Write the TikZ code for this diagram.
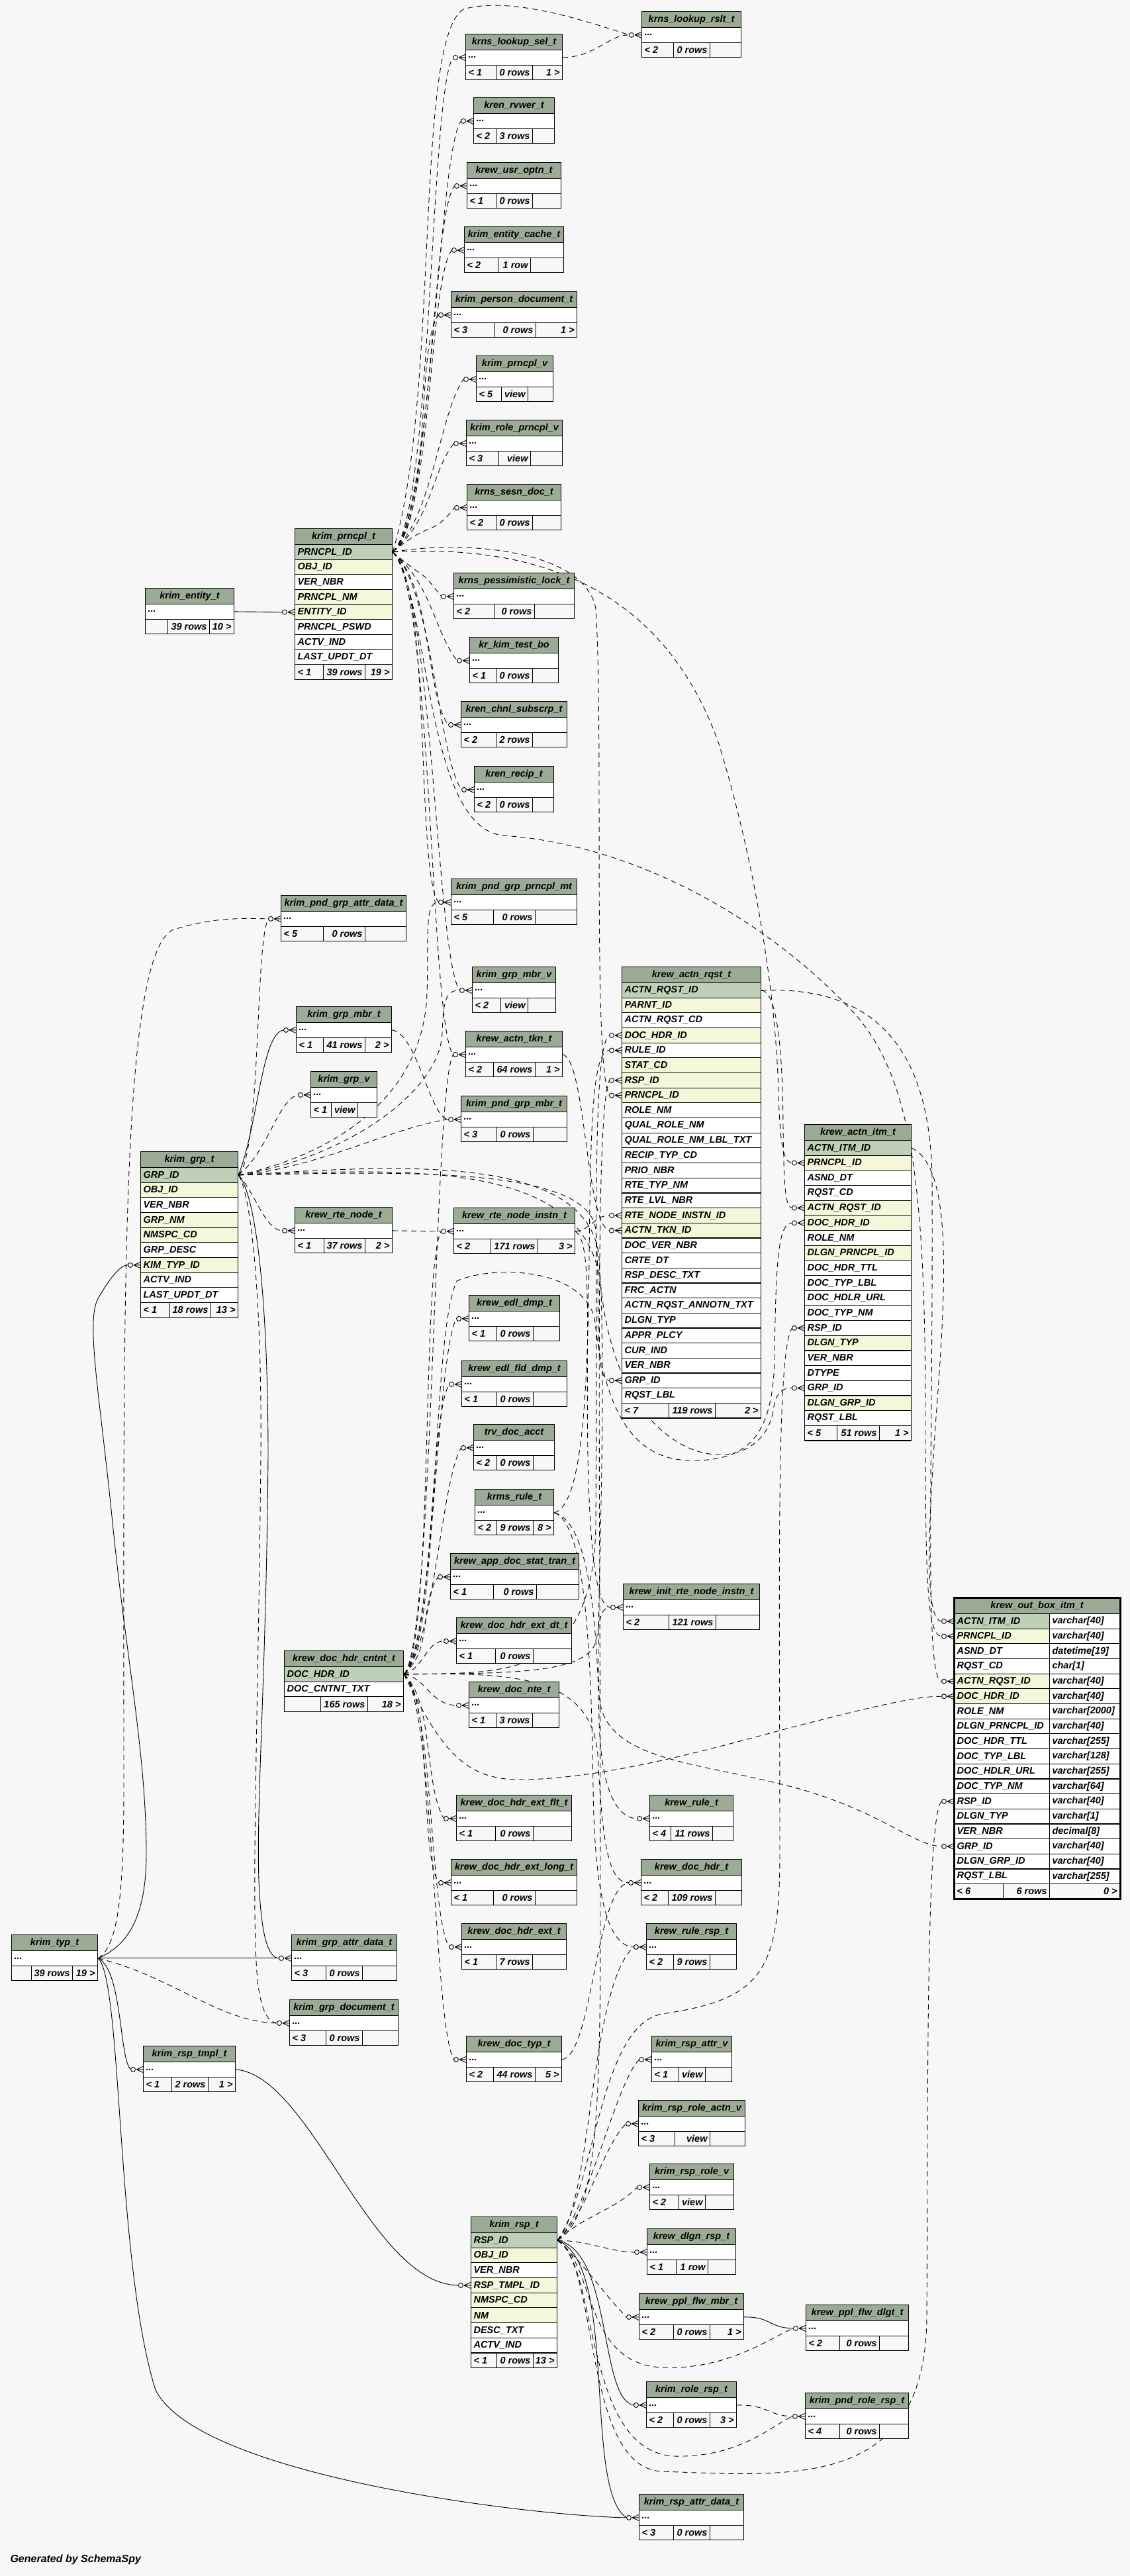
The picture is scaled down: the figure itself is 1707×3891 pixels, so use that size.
\documentclass[tikz,border=0pt]{standalone}
\usepackage{fontspec}
\setmainfont{Liberation Sans}
\definecolor{bgc}{HTML}{F7F7F7}
\definecolor{hdrc}{HTML}{9BAB96}
\definecolor{pkc}{HTML}{BED1B8}
\definecolor{idxc}{HTML}{F4F7DA}
\pgfdeclarelayer{back}
\pgfdeclarelayer{edges}
\pgfsetlayers{back,edges,main}
\newcommand{\tabfnt}{\fontsize{14.5}{16}\selectfont\bfseries\itshape}
% table head + column rows: id, x left, x right, y top, title, rows
\newcommand{\dbt}[6]{%
  \pgfmathsetmacro{\tw}{#3-#2-8}%
  \node[hdr, text width=\tw pt] (#1) at (#2,#4) {#5};
  \foreach \st/\tx [count=\i] in {#6}
    \node[rw, fill=\st, text width=\tw pt] (#1-\i) at (#2,{#4+24+(\i-1)*22.67}) {\tx};
}
% footer: id, x left, divider 1, divider 2, x right, y, three texts
\newcommand{\dbfoot}[9]{%
  \pgfmathsetmacro{\wa}{#3-#2-8}\pgfmathsetmacro{\wb}{#4-#3-8}\pgfmathsetmacro{\wc}{#5-#4-8}%
  \node[rw, fill=bgc] (#1-fa) at (#2,{#6}) {\makebox[\wa pt][l]{#7}};
  \node[rw, fill=bgc] (#1-fb) at (#3,{#6}) {\makebox[\wb pt][r]{#8}};
  \node[rw, fill=bgc] (#1-fc) at (#4,{#6}) {\makebox[\wc pt][r]{#9}};
}
\tikzset{
  hdr/.style={draw, line width=1.1pt, fill=hdrc, font=\tabfnt, inner xsep=4pt, inner ysep=0pt,
              minimum height=24pt, align=center, anchor=north west},
  rw/.style={draw, line width=1.1pt, font=\tabfnt, inner xsep=4pt, inner ysep=0pt,
             minimum height=22.67pt, align=left, anchor=north west},
  fk/.style={dash pattern=on 8pt off 6pt, line width=0.9pt},
  fks/.style={solid, line width=0.9pt},
  crowfoot/.pic={
    \draw[solid, line width=0.9pt] (-15,0) circle (3.5pt);
    \draw[solid, line width=0.9pt] (-10,0) -- (0,4.5) (-10,0) -- (0,0) (-10,0) -- (0,-4.5);
  }
}

\begin{document}
\catcode`\_=12
\begin{tikzpicture}[x=1pt, y=-1pt]
  \begin{pgfonlayer}{back}
    \fill[bgc] (0,0) rectangle (1707,3891);
  \end{pgfonlayer}
  \useasboundingbox (0,0) rectangle (1707,3891);

  % right column, top
  \dbt{lkrslt}{969}{1119}{17}{krns_lookup_rslt_t}{white/{...}}
  \dbfoot{lkrslt}{969}{1017}{1072}{1119}{17+46.67}{< 2}{0 rows}{}
  \dbt{lksel}{703}{849}{51}{krns_lookup_sel_t}{white/{...}}
  \dbfoot{lksel}{703}{749}{804}{849}{51+46.67}{< 1}{0 rows}{1 >}
  \dbt{rvwer}{715}{837}{147}{kren_rvwer_t}{white/{...}}
  \dbfoot{rvwer}{715}{749}{804}{837}{147+46.67}{< 2}{3 rows}{}
  \dbt{usropt}{705}{847}{245}{krew_usr_optn_t}{white/{...}}
  \dbfoot{usropt}{705}{749}{804}{847}{245+46.67}{< 1}{0 rows}{}
  \dbt{entcache}{701}{851}{342}{krim_entity_cache_t}{white/{...}}
  \dbfoot{entcache}{701}{752}{801}{851}{342+46.67}{< 2}{1 row}{}
  \dbt{persdoc}{681}{871}{440}{krim_person_document_t}{white/{...}}
  \dbfoot{persdoc}{681}{746}{809}{871}{440+46.67}{< 3}{0 rows}{1 >}
  \dbt{prncplv}{719}{835}{537}{krim_prncpl_v}{white/{...}}
  \dbfoot{prncplv}{719}{757}{797}{835}{537+46.67}{< 5}{view}{}
  \dbt{roleprv}{704}{849}{634}{krim_role_prncpl_v}{white/{...}}
  \dbfoot{roleprv}{704}{753}{801}{849}{634+46.67}{< 3}{view}{}
  \dbt{sesndoc}{705}{847}{731}{krns_sesn_doc_t}{white/{...}}
  \dbfoot{sesndoc}{705}{749}{804}{847}{731+46.67}{< 2}{0 rows}{}
  \dbt{pesslock}{685}{867}{865}{krns_pessimistic_lock_t}{white/{...}}
  \dbfoot{pesslock}{685}{747}{807}{867}{865+46.67}{< 2}{0 rows}{}
  \dbt{testbo}{709}{843}{962}{kr_kim_test_bo}{white/{...}}
  \dbfoot{testbo}{709}{749}{804}{843}{962+46.67}{< 1}{0 rows}{}
  \dbt{chnlsub}{696}{856}{1059}{kren_chnl_subscrp_t}{white/{...}}
  \dbfoot{chnlsub}{696}{749}{804}{856}{1059+46.67}{< 2}{2 rows}{}
  \dbt{recip}{716}{836}{1157}{kren_recip_t}{white/{...}}
  \dbfoot{recip}{716}{749}{804}{836}{1157+46.67}{< 2}{0 rows}{}

  % principal
  \dbt{entity}{219}{353}{888}{krim_entity_t}{white/{...}}
  \dbfoot{entity}{219}{253}{316}{353}{888+46.67}{}{39 rows}{10 >}
  \dbt{prncpl}{445}{592}{798}{krim_prncpl_t}{pkc/PRNCPL_ID, idxc/OBJ_ID, white/VER_NBR,
    idxc/PRNCPL_NM, idxc/ENTITY_ID, white/PRNCPL_PSWD, white/ACTV_IND, white/LAST_UPDT_DT}
  \dbfoot{prncpl}{445}{488}{551}{592}{798+24+8*22.67}{< 1}{39 rows}{19 >}

  % groups
  \dbt{pgattr}{424}{613}{1352}{krim_pnd_grp_attr_data_t}{white/{...}}
  \dbfoot{pgattr}{424}{488}{551}{613}{1352+46.67}{< 5}{0 rows}{}
  \dbt{pgprn}{681}{871}{1327}{krim_pnd_grp_prncpl_mt}{white/{...}}
  \dbfoot{pgprn}{681}{745}{808}{871}{1327+46.67}{< 5}{0 rows}{}
  \dbt{grpmbrv}{713}{839}{1460}{krim_grp_mbr_v}{white/{...}}
  \dbfoot{grpmbrv}{713}{756}{797}{839}{1460+46.67}{< 2}{view}{}
  \dbt{grpmbr}{447}{591}{1520}{krim_grp_mbr_t}{white/{...}}
  \dbfoot{grpmbr}{447}{488}{551}{591}{1520+46.67}{< 1}{41 rows}{2 >}
  \dbt{actntkn}{703}{849}{1557}{krew_actn_tkn_t}{white/{...}}
  \dbfoot{actntkn}{703}{745}{808}{849}{1557+46.67}{< 2}{64 rows}{1 >}
  \dbt{grpv}{469}{569}{1618}{krim_grp_v}{white/{...}}
  \dbfoot{grpv}{469}{500}{540}{569}{1618+46.67}{< 1}{view}{}
  \dbt{pgmbr}{696}{856}{1655}{krim_pnd_grp_mbr_t}{white/{...}}
  \dbfoot{pgmbr}{696}{749}{805}{856}{1655+46.67}{< 3}{0 rows}{}
  \dbt{grp}{212}{359}{1739}{krim_grp_t}{pkc/GRP_ID, idxc/OBJ_ID, white/VER_NBR, idxc/GRP_NM,
    idxc/NMSPC_CD, white/GRP_DESC, idxc/KIM_TYP_ID, white/ACTV_IND, white/LAST_UPDT_DT}
  \dbfoot{grp}{212}{256}{318}{359}{1739+24+9*22.67}{< 1}{18 rows}{13 >}

  % action request / item
  \dbt{actnrqst}{939}{1149}{1460}{krew_actn_rqst_t}{pkc/ACTN_RQST_ID, idxc/PARNT_ID,
    white/ACTN_RQST_CD, idxc/DOC_HDR_ID, white/RULE_ID, idxc/STAT_CD, idxc/RSP_ID,
    idxc/PRNCPL_ID, white/ROLE_NM, white/QUAL_ROLE_NM, white/QUAL_ROLE_NM_LBL_TXT,
    white/RECIP_TYP_CD, white/PRIO_NBR, white/RTE_TYP_NM, white/RTE_LVL_NBR,
    idxc/RTE_NODE_INSTN_ID, idxc/ACTN_TKN_ID, white/DOC_VER_NBR, white/CRTE_DT,
    white/RSP_DESC_TXT, white/FRC_ACTN, white/ACTN_RQST_ANNOTN_TXT, white/DLGN_TYP,
    white/APPR_PLCY, white/CUR_IND, white/VER_NBR, white/GRP_ID, white/RQST_LBL}
  \dbfoot{actnrqst}{939}{1010}{1080}{1149}{1460+24+28*22.67}{< 7}{119 rows}{2 >}
  \dbt{actnitm}{1215}{1376}{1698}{krew_actn_itm_t}{pkc/ACTN_ITM_ID, idxc/PRNCPL_ID,
    white/ASND_DT, white/RQST_CD, idxc/ACTN_RQST_ID, idxc/DOC_HDR_ID, white/ROLE_NM,
    idxc/DLGN_PRNCPL_ID, white/DOC_HDR_TTL, white/DOC_TYP_LBL, white/DOC_HDLR_URL,
    white/DOC_TYP_NM, white/RSP_ID, idxc/DLGN_TYP, white/VER_NBR, white/DTYPE,
    white/GRP_ID, idxc/DLGN_GRP_ID, white/RQST_LBL}
  \dbfoot{actnitm}{1215}{1264}{1328}{1376}{1698+24+19*22.67}{< 5}{51 rows}{1 >}

  % out box (the focused table)
  \node[hdr, text width=242pt] (outbox) at (1441,2413) {krew_out_box_itm_t};
  \foreach \st/\tx/\ty [count=\i] in {pkc/ACTN_ITM_ID/varchar[40], idxc/PRNCPL_ID/varchar[40],
      white/ASND_DT/datetime[19], white/RQST_CD/char[1], idxc/ACTN_RQST_ID/varchar[40],
      idxc/DOC_HDR_ID/varchar[40], white/ROLE_NM/varchar[2000], white/DLGN_PRNCPL_ID/varchar[40],
      white/DOC_HDR_TTL/varchar[255], white/DOC_TYP_LBL/varchar[128],
      white/DOC_HDLR_URL/varchar[255], white/DOC_TYP_NM/varchar[64], white/RSP_ID/varchar[40],
      white/DLGN_TYP/varchar[1], white/VER_NBR/decimal[8], white/GRP_ID/varchar[40],
      white/DLGN_GRP_ID/varchar[40], white/RQST_LBL/varchar[255]} {
    \node[rw, fill=\st, text width=136pt] (outbox-\i) at (1441,{2437+(\i-1)*22.67}) {\tx};
    \node[rw, fill=white, text width=98pt] (outbox-t\i) at (1585,{2437+(\i-1)*22.67}) {\ty};
  }
  \dbfoot{outbox}{1441}{1515}{1585}{1691}{2437+18*22.67}{< 6}{6 rows}{0 >}
  \draw[line width=3pt] (outbox.north west) rectangle (outbox-fc.south east);

  % route nodes
  \dbt{rtenode}{445}{592}{1823}{krew_rte_node_t}{white/{...}}
  \dbfoot{rtenode}{445}{489}{551}{592}{1823+46.67}{< 1}{37 rows}{2 >}
  \dbt{rteinst}{685}{868}{1824}{krew_rte_node_instn_t}{white/{...}}
  \dbfoot{rteinst}{685}{741}{812}{868}{1824+46.67}{< 2}{171 rows}{3 >}
  \dbt{edldmp}{708}{845}{1956}{krew_edl_dmp_t}{white/{...}}
  \dbfoot{edldmp}{708}{750}{805}{845}{1956+46.67}{< 1}{0 rows}{}
  \dbt{edlfld}{697}{856}{2055}{krew_edl_fld_dmp_t}{white/{...}}
  \dbfoot{edlfld}{697}{750}{805}{856}{2055+46.67}{< 1}{0 rows}{}
  \dbt{trvacct}{715}{837}{2151}{trv_doc_acct}{white/{...}}
  \dbfoot{trvacct}{715}{750}{805}{837}{2151+46.67}{< 2}{0 rows}{}
  \dbt{krmsrule}{717}{836}{2249}{krms_rule_t}{white/{...}}
  \dbfoot{krmsrule}{717}{750}{805}{836}{2249+46.67}{< 2}{9 rows}{8 >}
  \dbt{appdoc}{680}{874}{2346}{krew_app_doc_stat_tran_t}{white/{...}}
  \dbfoot{appdoc}{680}{745}{810}{874}{2346+46.67}{< 1}{0 rows}{}
  \dbt{initrte}{941}{1147}{2392}{krew_init_rte_node_instn_t}{white/{...}}
  \dbfoot{initrte}{941}{1010}{1081}{1147}{2392+46.67}{< 2}{121 rows}{}

  % document header
  \dbt{extdt}{689}{863}{2443}{krew_doc_hdr_ext_dt_t}{white/{...}}
  \dbfoot{extdt}{689}{748}{805}{863}{2443+46.67}{< 1}{0 rows}{}
  \dbt{hdrcnt}{429}{609}{2493}{krew_doc_hdr_cntnt_t}{pkc/DOC_HDR_ID, white/DOC_CNTNT_TXT}
  \dbfoot{hdrcnt}{429}{484}{555}{609}{2493+24+2*22.67}{}{165 rows}{18 >}
  \dbt{docnte}{708}{844}{2540}{krew_doc_nte_t}{white/{...}}
  \dbfoot{docnte}{708}{749}{804}{844}{2540+46.67}{< 1}{3 rows}{}
  \dbt{extflt}{689}{863}{2711}{krew_doc_hdr_ext_flt_t}{white/{...}}
  \dbfoot{extflt}{689}{748}{805}{863}{2711+46.67}{< 1}{0 rows}{}
  \dbt{extlong}{681}{871}{2808}{krew_doc_hdr_ext_long_t}{white/{...}}
  \dbfoot{extlong}{681}{745}{808}{871}{2808+46.67}{< 1}{0 rows}{}
  \dbt{extt}{697}{855}{2905}{krew_doc_hdr_ext_t}{white/{...}}
  \dbfoot{extt}{697}{749}{804}{855}{2905+46.67}{< 1}{7 rows}{}
  \dbt{doctyp}{704}{848}{3075}{krew_doc_typ_t}{white/{...}}
  \dbfoot{doctyp}{704}{745}{808}{848}{3075+46.67}{< 2}{44 rows}{5 >}
  \dbt{krewrule}{981}{1107}{2711}{krew_rule_t}{white/{...}}
  \dbfoot{krewrule}{981}{1013}{1076}{1107}{2711+46.67}{< 4}{11 rows}{}
  \dbt{dochdr}{968}{1120}{2808}{krew_doc_hdr_t}{white/{...}}
  \dbfoot{dochdr}{968}{1009}{1080}{1120}{2808+46.67}{< 2}{109 rows}{}
  \dbt{rulersp}{976}{1112}{2905}{krew_rule_rsp_t}{white/{...}}
  \dbfoot{rulersp}{976}{1017}{1072}{1112}{2905+46.67}{< 2}{9 rows}{}

  % types and responsibilities
  \dbt{typ}{17}{147}{2922}{krim_typ_t}{white/{...}}
  \dbfoot{typ}{17}{47}{109}{147}{2922+46.67}{}{39 rows}{19 >}
  \dbt{grpattr}{440}{599}{2922}{krim_grp_attr_data_t}{white/{...}}
  \dbfoot{grpattr}{440}{492}{547}{599}{2922+46.67}{< 3}{0 rows}{}
  \dbt{grpdoc}{437}{601}{3020}{krim_grp_document_t}{white/{...}}
  \dbfoot{grpdoc}{437}{492}{547}{601}{3020+46.67}{< 3}{0 rows}{}
  \dbt{rsptmpl}{216}{355}{3090}{krim_rsp_tmpl_t}{white/{...}}
  \dbfoot{rsptmpl}{216}{259}{314}{355}{3090+46.67}{< 1}{2 rows}{1 >}
  \dbt{rspattrv}{984}{1105}{3075}{krim_rsp_attr_v}{white/{...}}
  \dbfoot{rspattrv}{984}{1025}{1065}{1105}{3075+46.67}{< 1}{view}{}
  \dbt{rsproleactn}{964}{1125}{3172}{krim_rsp_role_actn_v}{white/{...}}
  \dbfoot{rsproleactn}{964}{1019}{1072}{1125}{3172+46.67}{< 3}{view}{}
  \dbt{rsprolev}{981}{1108}{3268}{krim_rsp_role_v}{white/{...}}
  \dbfoot{rsprolev}{981}{1025}{1065}{1108}{3268+46.67}{< 2}{view}{}
  \dbt{dlgnrsp}{977}{1111}{3366}{krew_dlgn_rsp_t}{white/{...}}
  \dbfoot{dlgnrsp}{977}{1021}{1069}{1111}{3366+46.67}{< 1}{1 row}{}
  \dbt{pplmbr}{965}{1123}{3464}{krew_ppl_flw_mbr_t}{white/{...}}
  \dbfoot{pplmbr}{965}{1017}{1072}{1123}{3464+46.67}{< 2}{0 rows}{1 >}
  \dbt{ppldlgt}{1217}{1372}{3481}{krew_ppl_flw_dlgt_t}{white/{...}}
  \dbfoot{ppldlgt}{1217}{1268}{1328}{1372}{3481+46.67}{< 2}{0 rows}{}
  \dbt{rsp}{711}{841}{3348}{krim_rsp_t}{pkc/RSP_ID, idxc/OBJ_ID, white/VER_NBR,
    idxc/RSP_TMPL_ID, idxc/NMSPC_CD, idxc/NM, white/DESC_TXT, white/ACTV_IND}
  \dbfoot{rsp}{711}{750}{805}{841}{3348+24+8*22.67}{< 1}{0 rows}{13 >}
  \dbt{rolersp}{976}{1112}{3597}{krim_role_rsp_t}{white/{...}}
  \dbfoot{rolersp}{976}{1017}{1072}{1112}{3597+46.67}{< 2}{0 rows}{3 >}
  \dbt{pndrolersp}{1216}{1372}{3614}{krim_pnd_role_rsp_t}{white/{...}}
  \dbfoot{pndrolersp}{1216}{1268}{1328}{1372}{3614+46.67}{< 4}{0 rows}{}
  \dbt{rspattrdata}{965}{1123}{3767}{krim_rsp_attr_data_t}{white/{...}}
  \dbfoot{rspattrdata}{965}{1017}{1072}{1123}{3767+46.67}{< 3}{0 rows}{}

  \node[anchor=west, font=\fontsize{16}{18}\selectfont\bfseries\itshape] (gen) at (12,3866)
    {Generated by SchemaSpy};

  % crow's feet at every child column
  \foreach \n in {lksel-1, rvwer-1, usropt-1, entcache-1, persdoc-1, prncplv-1, roleprv-1,
      sesndoc-1, pesslock-1, testbo-1, chnlsub-1, recip-1, lkrslt-1, pgprn-1, grpmbrv-1,
      actntkn-1, pgmbr-1, pgattr-1, grpmbr-1, grpv-1, rtenode-1, rteinst-1, actnrqst-4,
      actnrqst-5, actnrqst-7, actnrqst-8, actnrqst-16, actnrqst-17, actnrqst-27, actnitm-2,
      actnitm-5, actnitm-6, actnitm-13, actnitm-17, outbox-1, outbox-2, outbox-5, outbox-6,
      outbox-13, outbox-16, edldmp-1, edlfld-1, trvacct-1, appdoc-1, initrte-1, extdt-1,
      docnte-1, extflt-1, extlong-1, extt-1, doctyp-1, krewrule-1, dochdr-1, rulersp-1,
      rspattrv-1, rsproleactn-1, rsprolev-1, dlgnrsp-1, pplmbr-1, ppldlgt-1, rolersp-1,
      pndrolersp-1, rspattrdata-1, grpattr-1, grpdoc-1, rsptmpl-1, grp-7, prncpl-5, rsp-4} {
    \pic at (\n.west) {crowfoot};
    \coordinate (\n-in) at ([xshift=-18.5pt]\n.west);
  }

  \begin{pgfonlayer}{edges}
    % krim_prncpl_t
    \foreach \tb in {lksel-1, rvwer-1, usropt-1, entcache-1, persdoc-1, prncplv-1, roleprv-1, sesndoc-1}
      \draw[fk] (prncpl-1.east) .. controls +(60,-50) and ([xshift=-35pt,yshift=-45pt]\tb-in) .. (\tb-in);
    \foreach \tb in {pesslock-1, testbo-1, chnlsub-1, recip-1, pgprn-1, grpmbrv-1, actntkn-1}
      \draw[fk] (prncpl-1.east) .. controls +(60,50) and ([xshift=-35pt,yshift=45pt]\tb-in) .. (\tb-in);
    \draw[fk] (prncpl-1.east) .. controls (665,600) and (625,60) .. (700,14)
      .. controls (770,-6) and (880,30) .. (lkrslt-1-in);
    \draw[fk] (prncpl-1.east) .. controls (700,815) and (885,830) .. (900,920)
      .. controls (912,1100) and (895,1610) .. (actnrqst-8-in);
    \draw[fk] (prncpl-1.east) .. controls (800,822) and (1000,880) .. (1086,1124)
      .. controls (1140,1300) and (1172,1500) .. (1176,1650)
      .. controls (1178,1720) and (1182,1756) .. (actnitm-2-in);
    \draw[fk] (prncpl-1.east) .. controls (650,900) and (640,1250) .. (760,1262)
      .. controls (950,1275) and (1150,1380) .. (1290,1530)
      .. controls (1380,1630) and (1398,1800) .. (1398,2150)
      .. controls (1398,2380) and (1400,2471) .. (outbox-2-in);
    \draw[fk] (lksel-1.east) .. controls (900,86) and (920,52) .. (lkrslt-1-in);
    \draw[fks] (entity-1.east) -- (prncpl-5-in);

    % krim_grp_t
    \draw[fk] (grp-1.east) .. controls (395,1740) and (385,1420) .. (pgattr-1-in);
    \draw[fk] (grp-1.east) .. controls (500,1745) and (640,1660) .. (645,1500)
      .. controls (648,1420) and (640,1362) .. (pgprn-1-in);
    \draw[fk] (grp-1.east) .. controls (520,1750) and (665,1650) .. (668,1560)
      .. controls (670,1520) and (670,1495) .. (grpmbrv-1-in);
    \draw[fk] (grp-1.east) .. controls (480,1765) and (600,1700) .. (pgmbr-1-in);
    \draw[fks] (grp-1.east) .. controls (390,1700) and (395,1560) .. (grpmbr-1-in);
    \draw[fk] (grp-1.east) .. controls (405,1740) and (420,1660) .. (grpv-1-in);
    \draw[fk] (grp-1.east) .. controls (385,1800) and (400,1858) .. (rtenode-1-in);
    \draw[fk] (grp-1.east) .. controls (600,1770) and (895,1760) .. (900,1860)
      .. controls (908,1950) and (895,2085) .. (actnrqst-27-in);
    \draw[fk] (grp-1.east) .. controls (600,1760) and (890,1740) .. (905,1900)
      .. controls (915,2230) and (1150,2250) .. (1168,2130)
      .. controls (1172,2105) and (1180,2096) .. (actnitm-17-in);
    \draw[fk] (grp-1.east) .. controls (620,1765) and (895,1750) .. (908,1950)
      .. controls (915,2200) and (900,2450) .. (905,2560)
      .. controls (910,2660) and (1050,2660) .. (1200,2700)
      .. controls (1330,2735) and (1380,2788) .. (outbox-16-in);
    \draw[fks] (grp-1.east) .. controls (385,1800) and (405,1950) .. (405,2200)
      .. controls (402,2550) and (385,2750) .. (392,2860)
      .. controls (396,2925) and (405,2957) .. (grpattr-1-in);
    \draw[fk] (grp-1.east) .. controls (378,1800) and (396,1950) .. (394,2200)
      .. controls (390,2600) and (378,2900) .. (390,3000)
      .. controls (396,3040) and (405,3054) .. (grpdoc-1-in);
    \draw[fk] (grpmbr-1.east) .. controls (630,1560) and (650,1690) .. (pgmbr-1-in);

    % krew_doc_hdr_cntnt_t
    \foreach \tb in {appdoc-1, trvacct-1, edlfld-1, edldmp-1, rteinst-1, actntkn-1}
      \draw[fk] (hdrcnt-1.east) .. controls +(45,-40) and ([xshift=-30pt,yshift=-50pt]\tb-in) .. (\tb-in);
    \foreach \tb in {extflt-1, extlong-1, extt-1, doctyp-1}
      \draw[fk] (hdrcnt-1.east) .. controls +(45,40) and ([xshift=-30pt,yshift=50pt]\tb-in) .. (\tb-in);
    \draw[fk] (hdrcnt-1.east) .. controls (640,2520) and (645,2478) .. (extdt-1-in);
    \draw[fk] (hdrcnt-1.east) .. controls (645,2535) and (650,2575) .. (docnte-1-in);
    \draw[fk] (hdrcnt-1.east) .. controls (760,2527) and (885,2530) .. (900,2480)
      .. controls (906,2455) and (905,2427) .. (initrte-1-in);
    \draw[fk] (hdrcnt-1.east) .. controls (760,2527) and (893,2525) .. (903,2650)
      .. controls (910,2790) and (920,2843) .. (dochdr-1-in);
    \draw[fk] (hdrcnt-1.east) .. controls (760,2526) and (898,2540) .. (900,2300)
      .. controls (903,1900) and (893,1580) .. (actnrqst-4-in);
    \draw[fk] (hdrcnt-1.east) .. controls (665,2490) and (650,2020) .. (690,1935)
      .. controls (740,1912) and (875,1912) .. (898,1990)
      .. controls (912,2120) and (950,2205) .. (1043,2206)
      .. controls (1130,2207) and (1168,2170) .. (1170,2050)
      .. controls (1172,1900) and (1176,1847) .. (actnitm-6-in);
    \draw[fk] (hdrcnt-1.east) .. controls (665,2640) and (700,2690) .. (790,2688)
      .. controls (920,2686) and (1080,2640) .. (1200,2608)
      .. controls (1330,2575) and (1385,2562) .. (outbox-6-in);

    % krim_rsp_t
    \foreach \tb in {rspattrv-1, rsproleactn-1, rsprolev-1}
      \draw[fk] (rsp-1.east) .. controls +(45,-40) and ([xshift=-35pt,yshift=-35pt]\tb-in) .. (\tb-in);
    \draw[fk] (rsp-1.east) .. controls (890,3385) and (920,3401) .. (dlgnrsp-1-in);
    \draw[fk] (rsp-1.east) .. controls +(45,40) and ([xshift=-35pt,yshift=35pt]pplmbr-1-in) .. (pplmbr-1-in);
    \draw[fk] (rsp-1.east) .. controls (900,3420) and (880,3570) .. (1000,3576)
      .. controls (1100,3580) and (1165,3530) .. (ppldlgt-1-in);
    \draw[fks] (rsp-1.east) .. controls (925,3400) and (905,3625) .. (rolersp-1-in);
    \draw[fk] (rsp-1.east) .. controls (905,3420) and (880,3705) .. (1020,3710)
      .. controls (1120,3712) and (1170,3660) .. (pndrolersp-1-in);
    \draw[fks] (rsp-1.east) .. controls (935,3420) and (880,3760) .. (rspattrdata-1-in);
    \draw[fk] (rsp-1.east) .. controls (900,3350) and (907,3200) .. (907,2900)
      .. controls (907,2200) and (898,1680) .. (actnrqst-7-in);
    \draw[fk] (rsp-1.east) .. controls (900,3300) and (905,3060) .. (1000,3042)
      .. controls (1150,3020) and (1178,2980) .. (1178,2800)
      .. controls (1178,2400) and (1172,2040) .. (actnitm-13-in);
    \draw[fk] (rsp-1.east) .. controls (905,3420) and (880,3728) .. (1000,3733)
      .. controls (1200,3740) and (1398,3760) .. (1400,3500)
      .. controls (1402,3200) and (1398,2740) .. (outbox-13-in);
    \draw[fk] (rsp-1.east) .. controls (895,3330) and (890,3000) .. (rulersp-1-in);
    \draw[fks] (pplmbr-1.east) .. controls (1165,3499) and (1160,3516) .. (ppldlgt-1-in);
    \draw[fk] (rolersp-1.east) .. controls (1160,3632) and (1160,3649) .. (pndrolersp-1-in);

    % route and rule tables
    \draw[fk] (rtenode-1.east) -- (rteinst-1-in);
    \draw[fk] (rteinst-1.east) .. controls (892,1858) and (900,1835) .. (actnrqst-16-in);
    \draw[fk] (rteinst-1.east) .. controls (895,1875) and (885,2000) .. (888,2200)
      .. controls (892,2380) and (905,2427) .. (initrte-1-in);
    \draw[fk] (actntkn-1.east) .. controls (885,1600) and (885,1850) .. (actnrqst-17-in);
    \draw[fk] (krmsrule-1.east) .. controls (880,2275) and (888,2100) .. (890,1900)
      .. controls (892,1700) and (895,1586) .. (actnrqst-5-in);
    \draw[fk] (krmsrule-1.east) .. controls (880,2295) and (902,2400) .. (905,2600)
      .. controls (908,2700) and (930,2746) .. (krewrule-1-in);
    \draw[fk] (krmsrule-1.east) .. controls (885,2300) and (893,2500) .. (896,2700)
      .. controls (898,2870) and (920,2940) .. (rulersp-1-in);
    \draw[fk] (doctyp-1.east) .. controls (895,3105) and (900,2850) .. (dochdr-1-in);
    \draw[fk] (actnrqst-1.east) .. controls (1170,1497) and (1182,1560) .. (1183,1700)
      .. controls (1184,1790) and (1186,1824) .. (actnitm-5-in);
    \draw[fk] (actnrqst-1.east) .. controls (1300,1490) and (1405,1560) .. (1408,1780)
      .. controls (1410,2200) and (1395,2539) .. (outbox-5-in);
    \draw[fk] (actnitm-1.east) .. controls (1432,1760) and (1432,1900) .. (1417,2100)
      .. controls (1402,2300) and (1395,2448) .. (outbox-1-in);

    % krim_typ_t
    \draw[fks] (typ-1.east) .. controls (190,2940) and (221,2900) .. (221,2800)
      .. controls (221,2650) and (190,2500) .. (170,2300)
      .. controls (150,2100) and (128,1990) .. (150,1958)
      .. controls (162,1938) and (180,1910) .. (grp-7-in);
    \draw[fk] (typ-1.east) .. controls (180,2940) and (187,2850) .. (187,2700)
      .. controls (187,2000) and (180,1450) .. (260,1405)
      .. controls (320,1385) and (370,1387) .. (pgattr-1-in);
    \draw[fks] (typ-1.east) -- (grpattr-1-in);
    \draw[fk] (typ-1.east) .. controls (260,2985) and (330,3054) .. (grpdoc-1-in);
    \draw[fks] (typ-1.east) .. controls (185,2975) and (180,3110) .. (rsptmpl-1-in);
    \draw[fks] (typ-1.east) .. controls (185,2990) and (175,3420) .. (235,3610)
      .. controls (300,3740) and (800,3800) .. (rspattrdata-1-in);
    \draw[fks] (rsptmpl-1.east) .. controls (470,3135) and (560,3451) .. (rsp-4-in);
  \end{pgfonlayer}
\end{tikzpicture}
\end{document}
